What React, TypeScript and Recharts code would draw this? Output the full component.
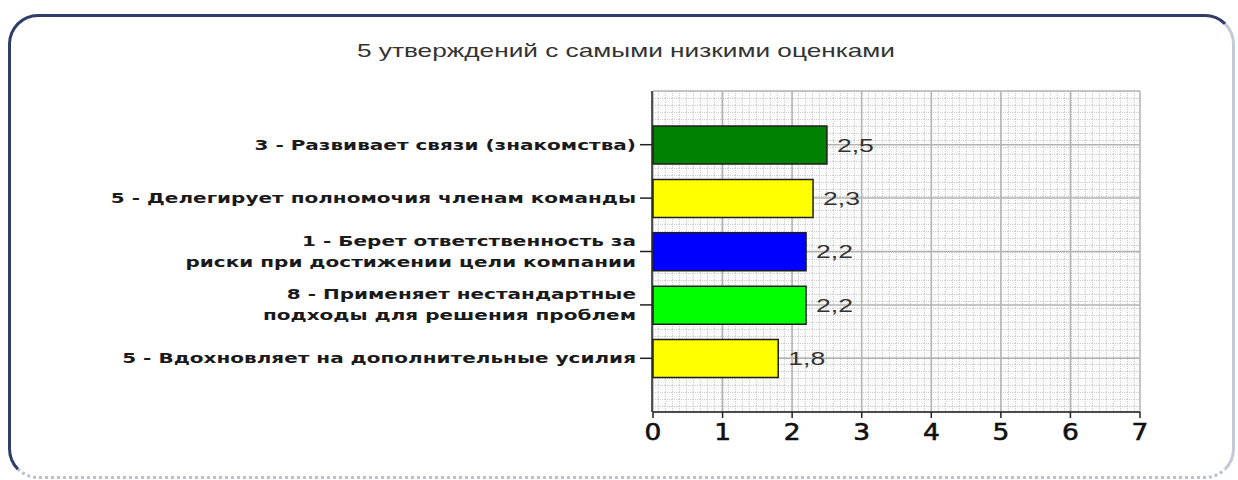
import React from 'react';
import { BarChart, Bar, XAxis, YAxis, CartesianGrid, Cell, LabelList } from 'recharts';

const title = '5 утверждений с самыми низкими оценками';
const categories = [
    '3 - Развивает связи (знакомства)',
    '5 - Делегирует полномочия членам команды',
    '1 - Берет ответственность за\nриски при достижении цели компании',
    '8 - Применяет нестандартные\nподходы для решения проблем',
    '5 - Вдохновляет на дополнительные усилия',
];
const scores = [2.5, 2.3, 2.2, 2.2, 1.8];
const barColors = ['#008000', '#ffff00', '#0000ff', '#00ff00', '#ffff00'];
const xTicks = [0, 1, 2, 3, 4, 5, 6, 7];

// картинка растянута по горизонтали, поэтому текст тоже растягиваем
const STRETCH = 1.4;

const data = categories.map((name, i) => ({ name, score: scores[i] }));

const CategoryTick = ({ x, y, payload }: any) => {
    const lines = String(payload.value).split('\n');
    const lineHeight = 21;
    const startY = -((lines.length - 1) * lineHeight) / 2;
    return (
        <g transform={`translate(${x},${y}) scale(1.43,1)`}>
            <text
                textAnchor="end"
                fontFamily="DejaVu Sans"
                fontWeight="bold"
                fontSize={14}
                fill="#1a1a1a"
            >
                {lines.map((line, i) => (
                    <tspan key={i} x={0} y={startY + i * lineHeight} dy="0.35em">
                        {line}
                    </tspan>
                ))}
            </text>
        </g>
    );
};

const NumberTick = ({ x, y, payload }: any) => (
    <g transform={`translate(${x},${y}) scale(1.15,1)`}>
        <text textAnchor="middle" dy="0.8em" fontFamily="DejaVu Sans" fontSize={23} fill="#111" stroke="#111" strokeWidth={0.6}>
            {payload.value}
        </text>
    </g>
);

const ValueLabel = ({ x, y, width, height, value }: any) => (
    <g transform={`translate(${x + width + 10},${y + height / 2}) scale(${STRETCH},1)`}>
        <text dy="0.35em" fontFamily="Liberation Sans" fontSize={19} fill="#333">
            {String(value).replace('.', ',')}
        </text>
    </g>
);

export default function App() {
    return (
        <div style={{ position: 'absolute', left: 0, top: 0, width: 1238, height: 480, background: '#fff' }}>
            <div
                style={{
                    position: 'absolute',
                    left: 8,
                    top: 14,
                    width: 1221,
                    height: 459,
                    borderRadius: 30,
                    borderLeft: '3px solid #2f3e68',
                    borderTop: '3px solid #2f3e68',
                    borderRight: '3px solid #c3c9d6',
                    borderBottom: '3px dotted #b9c0cf',
                }}
            />
            <div
                style={{
                    position: 'absolute',
                    left: 0,
                    top: 40,
                    width: 1252,
                    textAlign: 'center',
                    fontFamily: 'Liberation Sans',
                    fontSize: 19,
                    color: '#333',
                    transform: 'scaleX(1.38)',
                    transformOrigin: '626px 0',
                }}
            >
                {title}
            </div>
            <div style={{ position: 'absolute', left: 0, top: 0 }}>
                <BarChart
                    layout="vertical"
                    width={1238}
                    height={480}
                    data={data}
                    margin={{ top: 91, right: 98, bottom: 28, left: 0 }}
                >
                    <defs>
                        <pattern id="minorGrid" width={7} height={7} patternUnits="userSpaceOnUse">
                            <rect width={7} height={7} fill="#fbfbfb" />
                            <path d="M0 0.5 H7 M0.5 0 V7" stroke="#cfcfcf" strokeWidth={1} strokeDasharray="1 1" />
                        </pattern>
                    </defs>
                    <CartesianGrid yAxisId="cat" fill="url(#minorGrid)" stroke="#b3b3b3" strokeWidth={1.5} />
                    <XAxis
                        type="number"
                        domain={[0, 7]}
                        ticks={xTicks}
                        height={40}
                        tickSize={6}
                        tickMargin={4}
                        tick={<NumberTick />}
                        axisLine={{ stroke: '#222', strokeWidth: 1.5 }}
                        tickLine={{ stroke: '#222', strokeWidth: 1.5 }}
                    />
                    <XAxis
                        xAxisId="top"
                        orientation="top"
                        type="number"
                        domain={[0, 7]}
                        height={0}
                        tick={false}
                        tickLine={false}
                        axisLine={{ stroke: '#b3b3b3', strokeWidth: 1.5 }}
                    />
                    <YAxis
                        yAxisId={0}
                        type="number"
                        domain={[0, 1]}
                        ticks={[0, 1]}
                        width={1}
                        tick={false}
                        tickSize={13}
                        axisLine={false}
                        tickLine={{ stroke: '#222', strokeWidth: 1.5 }}
                    />
                    <YAxis
                        yAxisId="cat"
                        type="category"
                        dataKey="name"
                        width={652}
                        tickSize={12}
                        tickMargin={4}
                        padding={{ top: 27, bottom: 27 }}
                        tick={<CategoryTick />}
                        interval={0}
                        axisLine={{ stroke: '#222', strokeWidth: 1.5 }}
                        tickLine={{ stroke: '#222', strokeWidth: 1.5 }}
                    />
                    <Bar
                        yAxisId="cat"
                        dataKey="score"
                        barSize={38}
                        stroke="#1e1e1e"
                        strokeWidth={1.5}
                        isAnimationActive={false}
                    >
                        {data.map((_entry, index) => (
                            <Cell key={`cell-${index}`} fill={barColors[index]} />
                        ))}
                        <LabelList dataKey="score" content={<ValueLabel />} />
                    </Bar>
                </BarChart>
            </div>
        </div>
    );
}
